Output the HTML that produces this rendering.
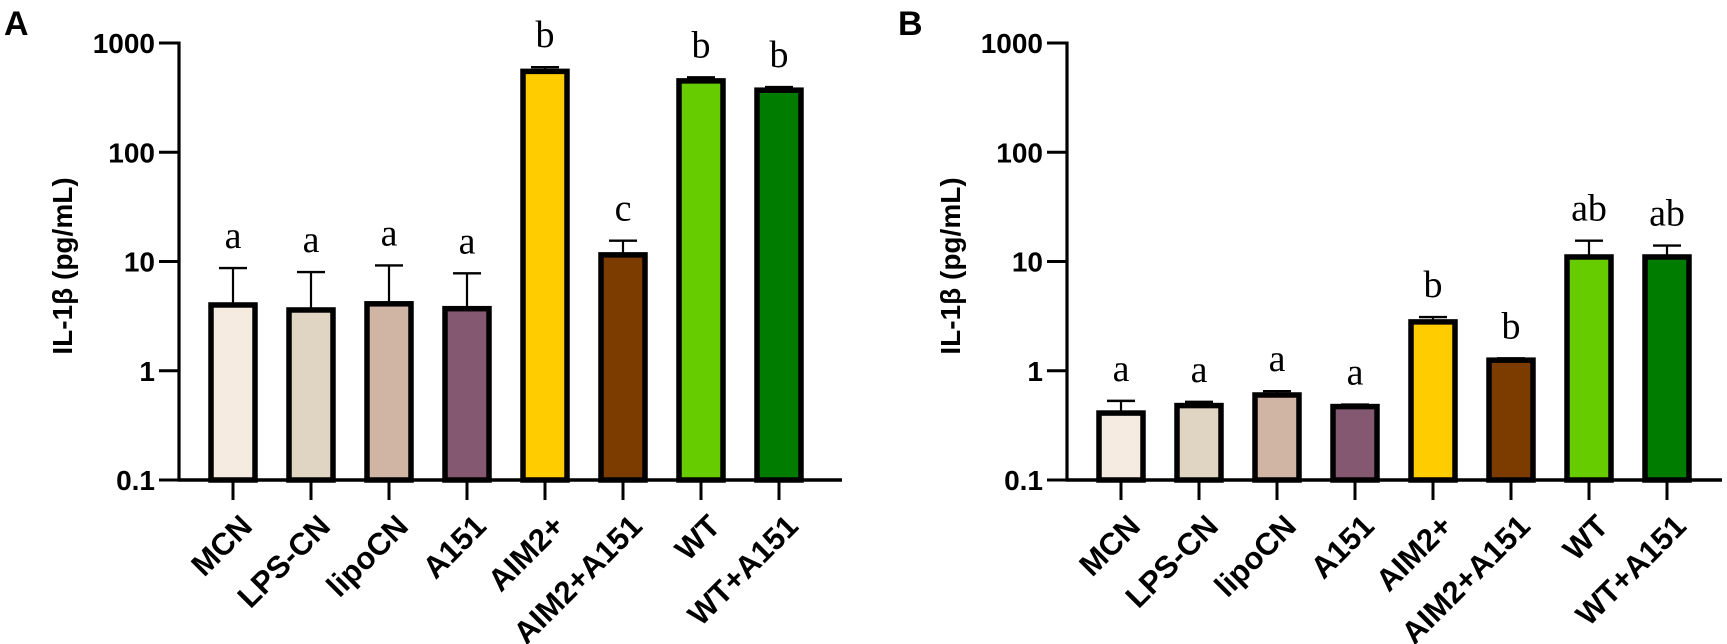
<!DOCTYPE html>
<html><head><meta charset="utf-8"><style>
html,body{margin:0;padding:0;background:#fff;}
svg{display:block;}
text{font-family:"Liberation Sans",Arial,sans-serif;}
</style></head><body>
<svg id="chart" width="1727" height="644" viewBox="0 0 1727 644" xmlns="http://www.w3.org/2000/svg"></svg>
<script>
const categories = ["MCN","LPS-CN","lipoCN","A151","AIM2+","AIM2+A151","WT","WT+A151"];
const colors = ["#f5ebe0","#e0d4c2","#d0b4a4","#845870","#ffcc00","#7c3c00","#66cc00","#007c00"];
const valuesA = [4.0, 3.6, 4.1, 3.7, 550, 11.5, 450, 370];
const errTopA = [8.7, 8.0, 9.2, 7.8, 600, 15.5, 485, 395];
const lettersA = ["a","a","a","a","b","c","b","b"];
const valuesB = [0.41, 0.48, 0.60, 0.47, 2.8, 1.25, 11, 11];
const errTopB = [0.53, 0.52, 0.65, 0.49, 3.1, 1.3, 15.5, 14];
const lettersB = ["a","a","a","a","b","b","ab","ab"];
const tickValues = [0.1, 1, 10, 100, 1000];
const tickLabels = ["0.1","1","10","100","1000"];

const NS = "http://www.w3.org/2000/svg";
const svg = document.getElementById("chart");
function mk(tag, attrs, parent, txt){
  const e = document.createElementNS(NS, tag);
  for (const k in attrs) e.setAttribute(k, attrs[k]);
  if (txt !== undefined) e.textContent = txt;
  (parent || svg).appendChild(e);
  return e;
}
const Y0 = 480, Y1 = 43;
function yScale(v){ return Y0 - (Math.log10(v) + 1) / 4 * (Y0 - Y1); }

function panel(key, axisX, xEnd, vals, errs, letters, panelLetter, plX, titleX){
  const g = mk("g", {});
  
  
  const pl = mk("text", {x: plX, y: 35, "font-size": 34, "font-weight": "bold"}, g, panelLetter);
  
  
  const xc = i => axisX + 54 + i * 78;
  vals.forEach((v, i) => {
    const cx = xc(i);
    const eg = mk("g", {}, g);
    
    
    mk("line", {x1: cx, x2: cx, y1: yScale(v), y2: yScale(errs[i]), stroke: "#000", "stroke-width": 2.2}, eg);
    mk("line", {x1: cx - 14, x2: cx + 14, y1: yScale(errs[i]), y2: yScale(errs[i]), stroke: "#000", "stroke-width": 2.4}, eg);
    const top = yScale(v);
    const r = mk("rect", {x: cx - 22, y: top, width: 44, height: Y0 - top, fill: colors[i], stroke: "#000", "stroke-width": 5.5}, g);
    
    
    const lt = mk("text", {x: cx, y: yScale(errs[i]) - 20, "text-anchor": "middle", "font-size": 38, style: "font-family:'Liberation Serif',serif"}, g, letters[i]);
    
    
    mk("line", {x1: cx, x2: cx, y1: Y0, y2: Y0 + 20, stroke: "#000", "stroke-width": 3}, g);
    const cl = mk("text", {x: 0, y: 0, "text-anchor": "end", "font-size": 31, "font-weight": "bold",
      transform: "translate(" + (cx + 21) + "," + (Y0 + 48) + ") rotate(-45)"}, g, categories[i]);
    
    
  });
  const ya = mk("line", {x1: axisX, x2: axisX, y1: Y1 - 1.5, y2: Y0 + 1.5, stroke: "#000", "stroke-width": 3.2}, g);
  
  
  const xa = mk("line", {x1: axisX - 1.5, x2: xEnd, y1: Y0, y2: Y0, stroke: "#000", "stroke-width": 3.5}, g);
  
  
  tickValues.forEach((t, i) => {
    const y = yScale(t);
    mk("line", {x1: axisX - 20, x2: axisX, y1: y, y2: y, stroke: "#000", "stroke-width": 3}, g);
    const tl = mk("text", {x: axisX - 24, y: y + 10, "text-anchor": "end", "font-size": 28, "font-weight": "bold"}, g, tickLabels[i]);
    
    
  });
  const yt = mk("text", {x: 0, y: 0, "text-anchor": "middle", "font-size": 28, "font-weight": "bold",
    transform: "translate(" + (titleX + 10) + "," + 266 + ") rotate(-90)"}, g, "IL-1β (pg/mL)");
  
  
}
panel("a", 179, 842, valuesA, errTopA, lettersA, "A", 4, 62);
panel("b", 1067, 1722, valuesB, errTopB, lettersB, "B", 898, 950);
</script>
</body></html>
